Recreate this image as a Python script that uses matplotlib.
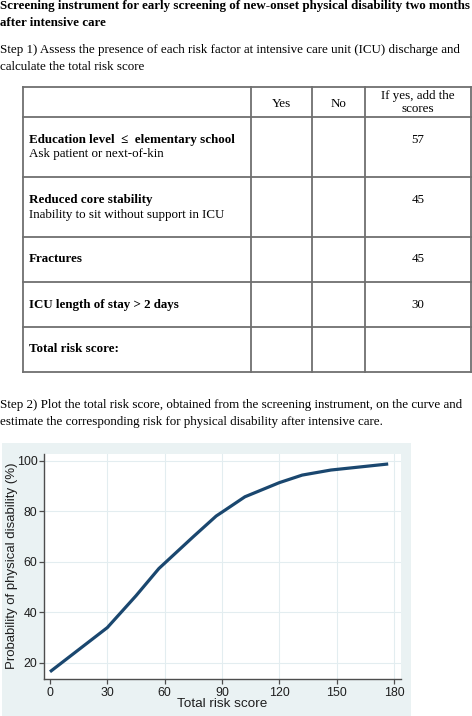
import matplotlib
matplotlib.use("Agg")
import matplotlib.pyplot as plt
from matplotlib.lines import Line2D
from matplotlib.patches import Rectangle

# ---------------- data ----------------
risk_score = [0, 30, 45, 57, 75, 87, 90, 102, 120, 132, 147, 177]
probability = [16.4, 33.9, 46.5, 57.3, 69.9, 78.1, 79.6, 85.7, 91.3, 94.3, 96.3, 98.7]
x_ticks = [0, 30, 60, 90, 120, 150, 180]
y_ticks = [20, 40, 60, 80, 100]

risk_factors = ["Education level  \u2264  elementary school", "Reduced core stability",
                "Fractures", "ICU length of stay > 2 days", "Total risk score:"]
risk_notes = ["Ask patient or next-of-kin", "Inability to sit without support in ICU", "", "", ""]
factor_scores = ["57", "45", "45", "30", ""]
header = ["", "Yes", "No", "If yes, add the\nscores"]

W, H = 472, 716
fig = plt.figure(figsize=(W / 100, H / 100), dpi=100)
fig.patch.set_facecolor("white")

SERIF = ["Liberation Serif", "DejaVu Serif"]
SANS = ["Liberation Sans", "DejaVu Sans"]
FS = 9.35


def fx(px):
    return px / W


def fy(py):
    return 1 - py / H


def txt(x, y, s, **kw):
    kw.setdefault("family", SERIF)
    kw.setdefault("fontsize", FS)
    kw.setdefault("va", "center")
    fig.text(fx(x), fy(y), s, **kw)


# ---------------- heading text ----------------
txt(0, 6, "Screening instrument for early screening of new-onset physical disability two months",
    weight="bold")
txt(0, 23, "after intensive care", weight="bold")
txt(0, 49.5, "Step 1) Assess the presence of each risk factor at intensive care unit (ICU) discharge and")
txt(0, 66.5, "calculate the total risk score")

# ---------------- table ----------------
col_x = [22.7, 250.7, 311.7, 365.3, 471]
row_y = [87.3, 116.7, 177.3, 236.7, 282.3, 327, 371.7]
lc = "#6f6f6f"
for x in col_x:
    fig.add_artist(Line2D([fx(x), fx(x)], [fy(row_y[0]), fy(row_y[-1])], color=lc, lw=1.3))
for y in row_y:
    fig.add_artist(Line2D([fx(col_x[0]), fx(col_x[-1])], [fy(y), fy(y)], color=lc, lw=1.3))

# header
for i in range(1, 4):
    cx = (col_x[i] + col_x[i + 1]) / 2
    if "\n" in header[i]:
        a, b = header[i].split("\n")
        txt(cx, 96, a, ha="center")
        txt(cx, 109.3, b, ha="center")
    else:
        txt(cx, 104, header[i], ha="center")

# body rows
score_cx = (col_x[3] + col_x[4]) / 2
for k in range(len(risk_factors)):
    top = row_y[k + 1]
    if risk_notes[k]:
        y1 = top + 23
        txt(29, y1, risk_factors[k], weight="bold")
        txt(29, y1 + 14.3, risk_notes[k])
    else:
        y1 = top + 22.5
        txt(29, y1, risk_factors[k], weight="bold")
    if factor_scores[k]:
        txt(score_cx, y1, factor_scores[k], ha="center")

txt(0, 405, "Step 2) Plot the total risk score, obtained from the screening instrument, on the curve and")
txt(0, 421.7, "estimate the corresponding risk for physical disability after intensive care.")

# ---------------- chart ----------------
bg = "#eaf2f3"
fig.add_artist(Rectangle((fx(2), 0), fx(411) - fx(2), fy(443), transform=fig.transFigure,
                         facecolor=bg, edgecolor="none", zorder=0))

L, R, T, B = 44, 401, 454, 678.7
ax = fig.add_axes([fx(L), fy(B), fx(R) - fx(L), fy(T) - fy(B)])
ax.set_facecolor("white")
ax.set_xlim(-3.14, 183.7)
ax.set_ylim(13.66, 102.65)

grid_c = "#e3edf0"
for v in y_ticks:
    ax.axhline(v, color=grid_c, lw=0.8, zorder=1)
for v in x_ticks[1:]:
    ax.axvline(v, color=grid_c, lw=0.8, zorder=1)

ax.plot(risk_score, probability, color="#1a476f", lw=2.3, solid_capstyle="butt", zorder=3)

ax.set_xticks(x_ticks)
ax.set_yticks(y_ticks)
ax.set_xticklabels([str(v) for v in x_ticks])
ax.set_yticklabels([str(v) for v in y_ticks])
for s in ["top", "right"]:
    ax.spines[s].set_visible(False)
for s in ["left", "bottom"]:
    ax.spines[s].set_color("#4d4d4d")
    ax.spines[s].set_linewidth(1.0)
ax.tick_params(axis="both", direction="out", length=3.8, width=0.9, color="#4d4d4d",
               labelsize=8.9, labelcolor="#1e1e1e")
ax.tick_params(axis="x", pad=2.0)
ax.tick_params(axis="y", pad=1.0)
for lab in ax.get_xticklabels() + ax.get_yticklabels():
    lab.set_family(SANS)

ax.set_xlabel("Total risk score", family=SANS, fontsize=9.7, color="#1e1e1e")
ax.set_ylabel("Probability of physical disability (%)", family=SANS, fontsize=9.5, color="#1e1e1e")
ax.xaxis.set_label_coords((221.7 - L) / (R - L), (B - 704) / (B - T))
ax.xaxis.label.set_va("center")
ax.yaxis.set_label_coords((12.3 - L) / (R - L), (B - 566) / (B - T))
ax.yaxis.label.set_va("center")

fig.savefig("out.png", dpi=100, facecolor="white")
